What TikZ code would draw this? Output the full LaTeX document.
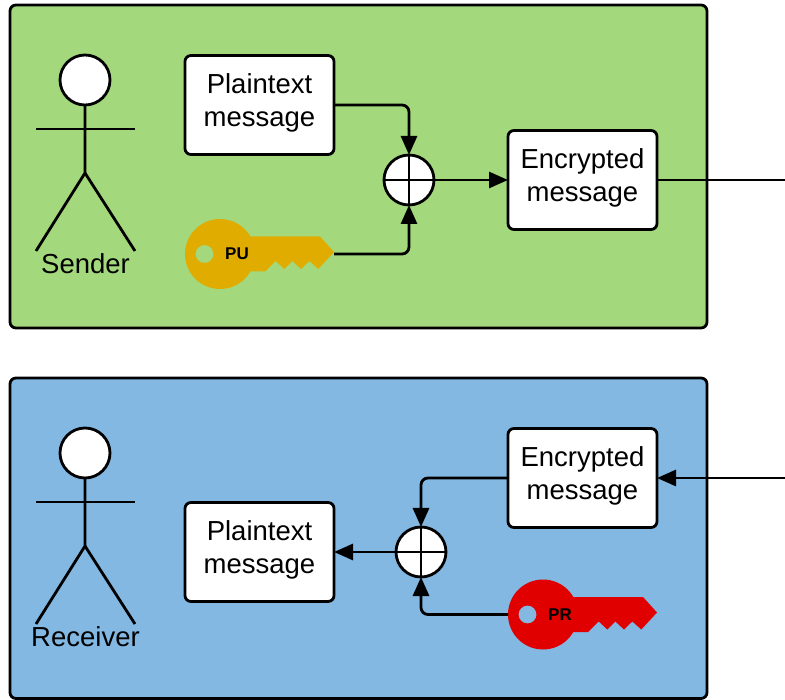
\documentclass[tikz,border=0pt]{standalone}
\usepackage{fontspec}
\setmainfont{Liberation Sans}
\usetikzlibrary{arrows.meta, positioning}
\definecolor{sendergreen}{HTML}{A3D97C}
\definecolor{receiverblue}{HTML}{83B8E3}
\definecolor{keygold}{HTML}{E0AC00}
\definecolor{keyred}{HTML}{E00000}

\tikzset{
  panel/.style = {draw, line width=2.8pt, rounded corners=6pt},
  msgbox/.style = {rectangle, draw, fill=white, line width=2.8pt, rounded corners=6pt, minimum width=149pt, minimum height=99pt, text width=140pt, align=center, inner sep=0pt, outer sep=0pt, font=\fontsize{27.5}{33}\selectfont, execute at end node={\rule[-10.8pt]{0pt}{0pt}}},
  xorsum/.style = {circle, draw, fill=white, line width=2.8pt, minimum size=50pt, inner sep=0pt, outer sep=0pt, path picture={\draw[line width=2.8pt] (path picture bounding box.north) -- (path picture bounding box.south) (path picture bounding box.west) -- (path picture bounding box.east);}},
  line/.style = {draw, line width=2.8pt, rounded corners=7pt, -{Triangle[length=19pt,width=16pt]}},
  limb/.style = {draw, line width=2.8pt},
  actorname/.style = {font=\fontsize{27.5}{33}\selectfont, inner sep=0pt},
  % key drawn round the centre of its bow
  keyshape/.pic = {
    \fill[pic actions, even odd rule] (0,0) circle (35) (-15.5,0) circle (9);
    \fill[pic actions] (30,-17.5) -- (100,-17.5) -- (114,-2) -- (98.3,15) -- (89.3,7) -- (81,15) -- (72.3,7) -- (64.3,15) -- (55.7,7) -- (45,17.5) -- (30,17.5) -- cycle;
    \node[font=\fontsize{17}{17}\selectfont\bfseries, inner sep=0pt] at (17,0) {\tikzpictext};
    \coordinate (-bowedge) at (-35,0);
    \coordinate (-tip) at (114,0);
  },
  % stick figure, measured from the middle of the head
  stickman/.pic = {
    \draw[limb, fill=white] (0,0) circle (25);
    \draw[limb] (0,25) -- (0,93) -- (-49,171);
    \draw[limb] (0,93) -- (50,171);
    \draw[limb] (-49,49) -- (50,49);
  }
}

\begin{document}
\begin{tikzpicture}[x=1pt, y=-1pt]
\useasboundingbox (0,0) rectangle (785,700);

\draw[panel, fill=sendergreen] (10,5) rectangle (707,328);
\draw[panel, fill=receiverblue] (10,378) rectangle (707,698.5);

% sender
\pic at (85,80) {stickman};
\node[actorname] (sender) at (85.5,264) {Sender};
\node[msgbox] (plainA) at (259.5,105) {Plaintext\\message};
\node[msgbox] (cipherA) at (582.5,180) {Encrypted\\message};
\node[xorsum] (sumA) at (409,180) {};
\pic (pukey) [fill=keygold, pic text=PU] at (220,254) {keyshape};
\coordinate (outA) at (785,180);

\draw[line] (plainA.east) -| (sumA.north);
\draw[line] (pukey-tip) -| (sumA.south);
\draw[line] (sumA.east) -- (cipherA.west);
\draw[limb] (cipherA.east) -- (outA);

% receiver
\pic at (85,453) {stickman};
\node[actorname] (receiver) at (85.5,637) {Receiver};
\node[msgbox] (plainB) at (259.5,552) {Plaintext\\message};
\node[msgbox] (cipherB) at (582.5,478) {Encrypted\\message};
\node[xorsum] (sumB) at (421,552) {};
\pic (prkey) [fill=keyred, pic text=PR] at (543,614.5) {keyshape};
\coordinate (outB) at (785,478);

\draw[line] (outB) -- (cipherB.east);
\draw[line] (cipherB.west) -| (sumB.north);
\draw[line] (prkey-bowedge) -| (sumB.south);
\draw[line] (sumB.west) -- (plainB.east);

\end{tikzpicture}
\end{document}
